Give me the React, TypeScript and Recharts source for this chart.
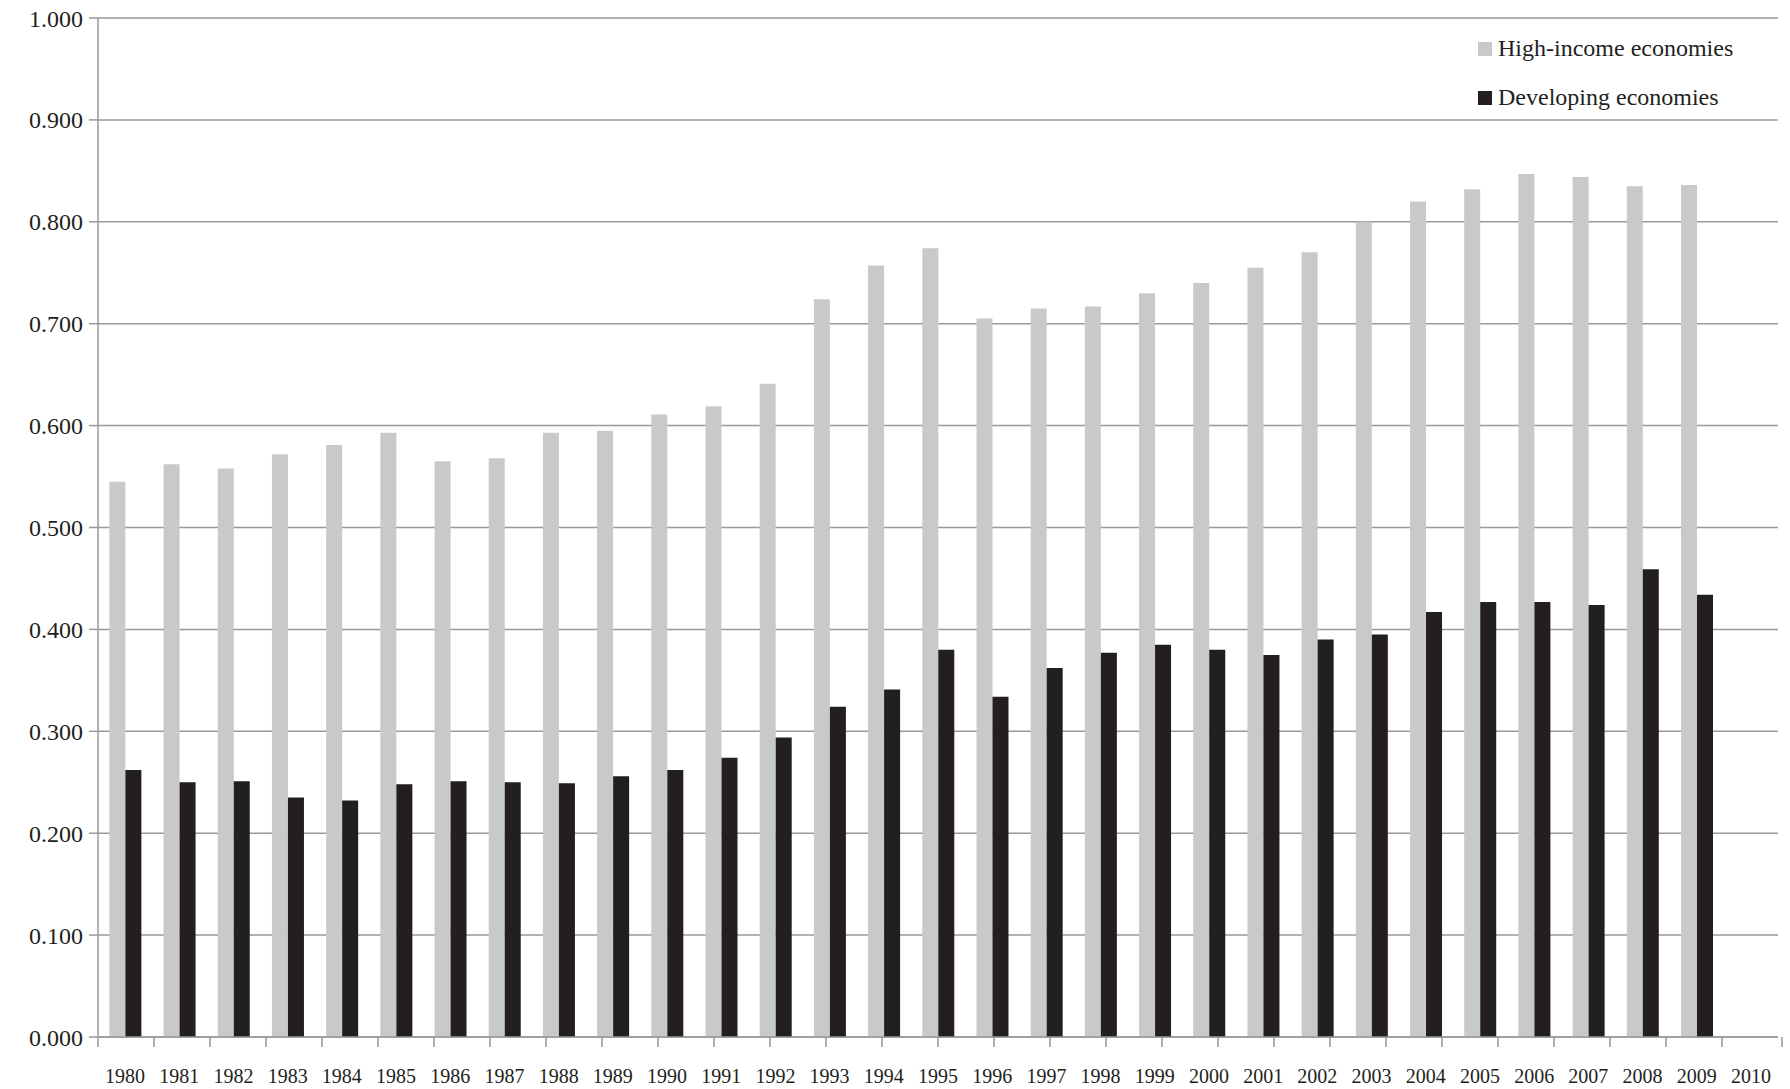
import { BarChart, Bar, XAxis, YAxis, CartesianGrid } from 'recharts';

const years = ['1980','1981','1982','1983','1984','1985','1986','1987','1988','1989','1990','1991','1992','1993','1994','1995','1996','1997','1998','1999','2000','2001','2002','2003','2004','2005','2006','2007','2008','2009','2010'];
const highIncome = [0.545,0.562,0.558,0.572,0.581,0.593,0.565,0.568,0.593,0.595,0.611,0.619,0.641,0.724,0.757,0.774,0.705,0.715,0.717,0.730,0.740,0.755,0.770,0.800,0.820,0.832,0.847,0.844,0.835,0.836,null];
const developing = [0.262,0.250,0.251,0.235,0.232,0.248,0.251,0.250,0.249,0.256,0.262,0.274,0.294,0.324,0.341,0.380,0.334,0.362,0.377,0.385,0.380,0.375,0.390,0.395,0.417,0.427,0.427,0.424,0.459,0.434,null];
const yTicks = [0, 0.1, 0.2, 0.3, 0.4, 0.5, 0.6, 0.7, 0.8, 0.9, 1.0];
const boundaryTicks = years.map((_, i) => i).concat([years.length]);

const data = years.map((y, i) => ({ year: y, high: highIncome[i], dev: developing[i] }));

const FONT = '"Liberation Serif", "Times New Roman", serif';
const GREY = '#c8c9cb';
const BLACK = '#231f20';
const AXIS = '#999999';

const legendItems = [
  { label: 'High-income economies', color: GREY },
  { label: 'Developing economies', color: BLACK },
];

// tick mark only, no text, hanging down from the baseline
const BoundaryTick = (props: any) => {
  const { x, index } = props;
  return <line key={index} x1={x} x2={x} y1={1037} y2={1047} stroke={AXIS} strokeWidth={1.5} />;
};

export default function App() {
  return (
    <div style={{ position: 'absolute', left: 0, top: 0, background: '#fff' }}>
      <BarChart width={1790} height={1089} data={data}
        margin={{ top: 18, right: 12, bottom: 0, left: 0 }}
        barCategoryGap="21%" barGap={0}>
        <CartesianGrid vertical={false} stroke={AXIS} strokeWidth={1.5} />
        <XAxis dataKey="year" height={51} interval={0}
          tick={{ fontFamily: FONT, fontSize: 20, fill: '#231f20' }}
          axisLine={{ stroke: AXIS, strokeWidth: 1.5 }} tickLine={false} tickMargin={26} />
        <XAxis xAxisId="bounds" type="number" domain={[0, years.length]} ticks={boundaryTicks}
          height={1} tick={<BoundaryTick />} allowDataOverflow
          axisLine={false} tickLine={false} />
        <YAxis width={98} domain={[0, 1]} ticks={yTicks}
          tickFormatter={(v: number) => v.toFixed(3)}
          tick={{ fontFamily: FONT, fontSize: 24, fill: '#231f20' }}
          axisLine={{ stroke: AXIS, strokeWidth: 1.5 }}
          tickLine={{ stroke: AXIS, strokeWidth: 1.5 }} tickSize={9} tickMargin={6} />
        <Bar dataKey="high" fill={GREY} isAnimationActive={false} />
        <Bar dataKey="dev" fill={BLACK} isAnimationActive={false} />
      </BarChart>
      <div style={{ position: 'absolute', top: 24, left: 1478, fontFamily: FONT, fontSize: 24, color: '#231f20' }}>
        {legendItems.map(it => (
          <div key={it.label} style={{ display: 'flex', alignItems: 'center', height: 49 }}>
            <span style={{ width: 14, height: 14, background: it.color, marginRight: 6 }} />
            {it.label}
          </div>
        ))}
      </div>
    </div>
  );
}
